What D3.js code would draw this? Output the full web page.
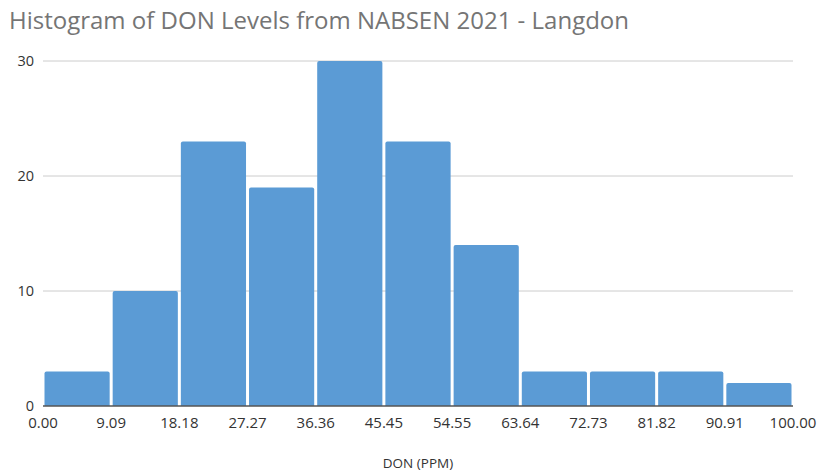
<!DOCTYPE html>
<html>
<head>
<meta charset="utf-8">
<script src="https://cdn.jsdelivr.net/npm/d3@7"></script>
<style>
  body { margin: 0; background: #fff; }
  svg { display: block; font-family: "Open Sans", sans-serif; }
</style>
</head>
<body>
<svg id="chart" width="818" height="475"></svg>
<script>
// bin edges (DON ppm) and counts per bin
const BIN_EDGES = [0, 9.09, 18.18, 27.27, 36.36, 45.45, 54.55, 63.64, 72.73, 81.82, 90.91, 100];
const COUNTS = [3, 10, 23, 19, 30, 23, 14, 3, 3, 3, 2];
const Y_TICKS = [0, 10, 20, 30];
const TITLE = "Histogram of DON Levels from NABSEN 2021 - Langdon";
const X_TITLE = "DON (PPM)";

const W = 818, H = 475;
const m = { t: 61, r: 25, b: 69, l: 43 };
const svg = d3.select("#chart");

const x = d3.scaleLinear().domain([0, 100]).range([m.l, W - m.r]);
const y = d3.scaleLinear().domain([0, 30]).range([H - m.b, m.t]);

svg.append("text").attr("x", 9).attr("y", 29)
  .style("font-size", "24px").style("fill", "#757575")
  .text(TITLE);

// gridlines
svg.append("g").selectAll("line").data(Y_TICKS.filter((d) => d > 0)).join("line")
  .attr("x1", m.l).attr("x2", W - m.r)
  .attr("y1", (d) => y(d)).attr("y2", (d) => y(d))
  .attr("stroke", "#cccccc").attr("stroke-width", 1);

// y labels
svg.append("g").selectAll("text").data(Y_TICKS).join("text")
  .attr("x", 34).attr("y", (d) => y(d)).attr("dy", "0.35em")
  .attr("text-anchor", "end")
  .style("font-size", "14.5px").style("fill", "#333")
  .text((d) => d);

// bars
const bins = COUNTS.map((c, i) => ({ x0: BIN_EDGES[i], x1: BIN_EDGES[i + 1], c }));
svg.append("g").selectAll("path").data(bins).join("path")
  .attr("fill", "#5b9bd5")
  .attr("d", (d) => {
    const x0 = x(d.x0) + 1.5, x1 = x(d.x1) - 1.5;
    const y0 = y(0), y1 = y(d.c), r = 2;
    return `M${x0},${y0}V${y1 + r}Q${x0},${y1} ${x0 + r},${y1}H${x1 - r}Q${x1},${y1} ${x1},${y1 + r}V${y0}Z`;
  });

// baseline
svg.append("line").attr("x1", m.l).attr("x2", W - m.r)
  .attr("y1", y(0)).attr("y2", y(0))
  .attr("stroke", "#555").attr("stroke-width", 1.5);

// x tick labels
svg.append("g").selectAll("text").data(BIN_EDGES).join("text")
  .attr("x", (d) => x(d)).attr("y", y(0) + 22)
  .attr("text-anchor", "middle")
  .style("font-size", "15px").style("fill", "#333")
  .text((d) => d.toFixed(2));

svg.append("text").attr("x", (m.l + W - m.r) / 2).attr("y", 468)
  .attr("text-anchor", "middle")
  .style("font-size", "13.5px").style("fill", "#333")
  .text(X_TITLE);
</script>
</body>
</html>
